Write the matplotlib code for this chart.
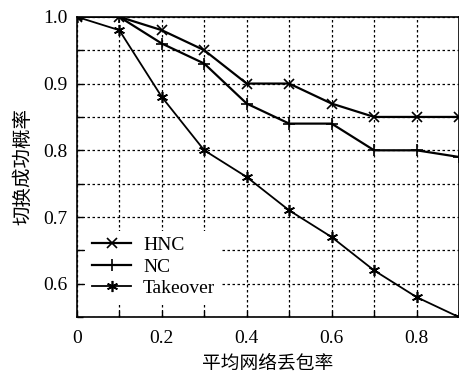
import numpy as np
import matplotlib.pyplot as plt

plt.rcParams['font.family'] = ['Liberation Serif', 'Noto Sans CJK SC']

# packet loss rate
x = [0, 0.1, 0.2, 0.3, 0.4, 0.5, 0.6, 0.7, 0.8, 0.9]
hnc = [1.0, 1.0, 0.98, 0.95, 0.90, 0.90, 0.87, 0.85, 0.85, 0.85]
nc = [1.0, 1.0, 0.96, 0.93, 0.87, 0.84, 0.84, 0.80, 0.80, 0.79]
takeover = [1.0, 0.98, 0.88, 0.80, 0.76, 0.71, 0.67, 0.62, 0.58, 0.55]

fig = plt.figure(figsize=(4.6, 3.74), dpi=100)
ax = fig.add_axes([0.167, 0.152, 0.831, 0.803])

ax.plot(x, hnc, color='black', lw=1.6, marker='x', ms=7, mew=1.2, label='HNC')
ax.plot(x, nc, color='black', lw=1.6, marker='+', ms=8, mew=1.2, label='NC')
ax.plot(x, takeover, color='black', lw=1.3, marker=(6, 2, 0), ms=8, mew=1.2, label='Takeover')

ax.set_xlim(0, 0.9)
ax.set_ylim(0.55, 1.0)
ax.set_xticks([0, 0.1, 0.2, 0.3, 0.4, 0.5, 0.6, 0.7, 0.8])
ax.set_xticklabels(['0', '', '0.2', '', '0.4', '', '0.6', '', '0.8'])
ax.set_yticks([0.55, 0.6, 0.65, 0.7, 0.75, 0.8, 0.85, 0.9, 0.95, 1.0])
ax.set_yticklabels(['', '0.6', '', '0.7', '', '0.8', '', '0.9', '', '1.0'])
ax.tick_params(direction='in', length=4, labelsize=14, width=1)
ax.tick_params(axis='x', pad=9)
ax.tick_params(axis='y', pad=7)
ax.grid(True, color='black', linestyle=(0, (2, 2)), lw=0.9)
for s in ax.spines.values():
    s.set_linewidth(1.2)

ax.set_xlabel('平均网络丢包率', family=['Noto Sans CJK SC'], fontsize=13.5, labelpad=4)
ax.set_ylabel('切换成功概率', family=['Noto Sans CJK SC'], fontsize=14, labelpad=7)

leg = ax.legend(loc='lower left', bbox_to_anchor=(0.0, 0.015), fontsize=14,
                frameon=True, facecolor='white', edgecolor='none', framealpha=1,
                handlelength=2.0, handletextpad=0.6, labelspacing=0.2, borderpad=0.3)
leg.set_zorder(5)

fig.savefig('out.png', dpi=100)
